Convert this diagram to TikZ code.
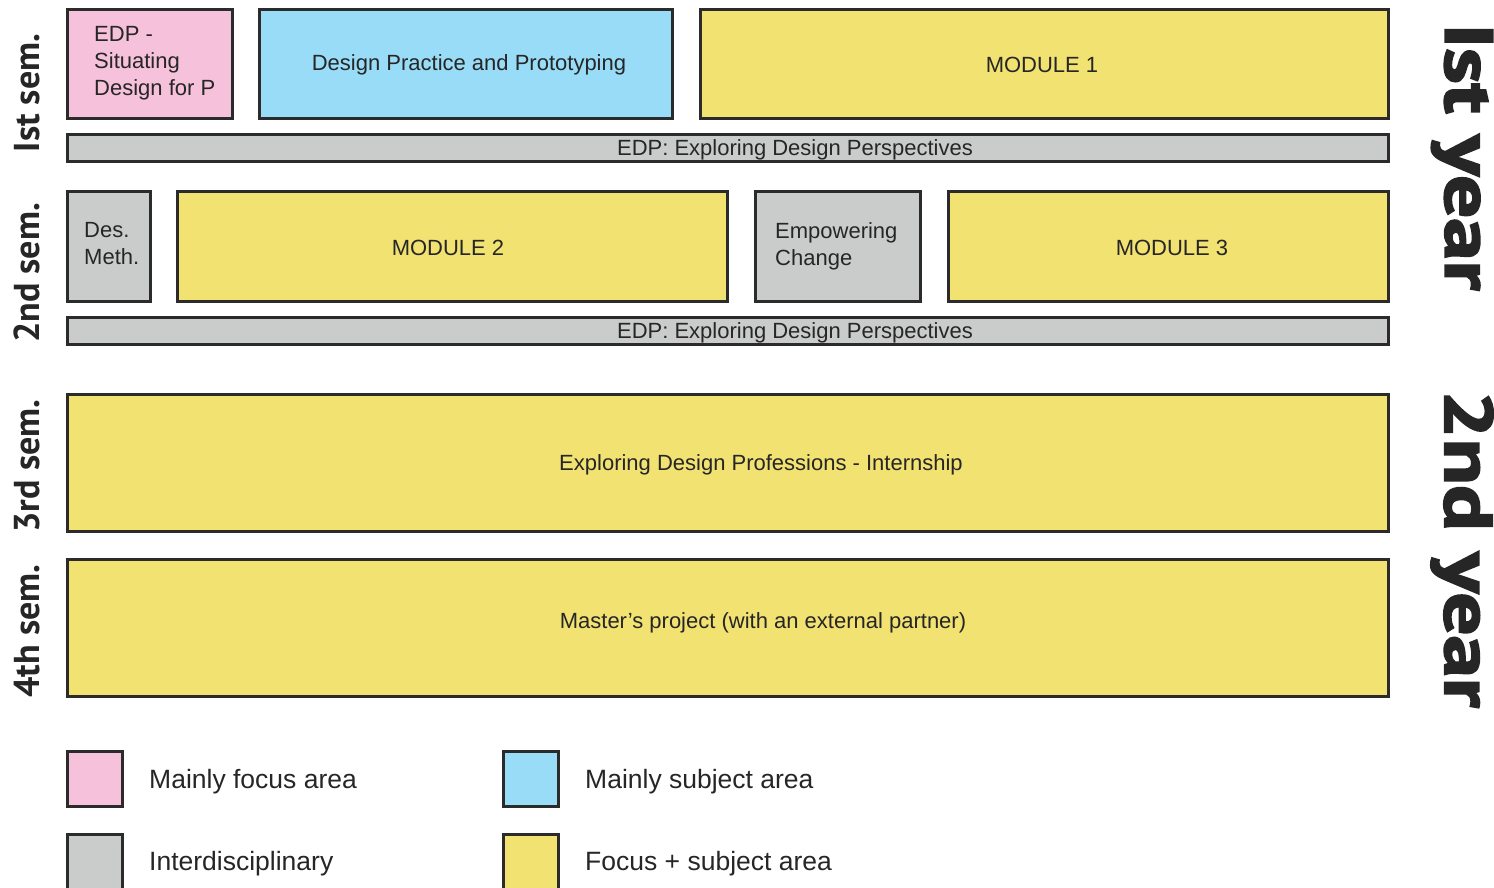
\documentclass[tikz,border=0pt]{standalone}
\usepackage{fontspec}
\setmainfont{Liberation Sans}
\newfontfamily\semfont{PT Sans}[BoldFont={PT Sans Bold}]
\newfontfamily\yearfont{PT Sans Bold}[FakeBold=2.5]
\definecolor{focuspink}{HTML}{F6C1DA}
\definecolor{subjblue}{HTML}{99DCF7}
\definecolor{bothyellow}{HTML}{F2E272}
\definecolor{intergray}{HTML}{CACCCB}
\definecolor{edge}{HTML}{2B2B2B}
\definecolor{ink}{HTML}{262626}
\tikzset{
  block/.style={draw=edge, line width=2.6pt, inner sep=0pt, anchor=north west},
  boxtext/.style={text=ink, inner sep=0pt, yshift=-1.5pt, font=\fontsize{22}{27}\selectfont},
  legtext/.style={text=ink, inner sep=0pt, anchor=west, yshift=-3pt, font=\fontsize{26.5}{30}\selectfont},
  semlabel/.style={text=ink, inner sep=0pt, rotate=90, font=\semfont\bfseries\fontsize{36}{36}\selectfont},
  yearlabel/.style={text=ink, inner sep=0pt, rotate=-90, xscale=1.25, transform shape, font=\yearfont\fontsize{68}{68}\selectfont},
}
\begin{document}
\begin{tikzpicture}[x=1pt, y=-1pt]
\useasboundingbox (0,0) rectangle (1494,888);

% ---- 1st semester ----
\node[block, fill=focuspink, minimum width=165, minimum height=109] (edpsit) at (66,8) {};
\node[boxtext, anchor=north west, align=left] (edpsitt) at (94,25) {EDP -\\Situating\\Design for P};
\node[block, fill=subjblue, minimum width=413, minimum height=109] (dpp) at (258,8) {};
\node[boxtext] (dppt) at (469,63) {Design Practice and Prototyping};
\node[block, fill=bothyellow, minimum width=688, minimum height=109] (mod1) at (699,8) {};
\node[boxtext] (mod1t) at (1042,63) {MODULE 1};
\node[block, fill=intergray, minimum width=1321, minimum height=27] (edp1) at (66,133) {};
\node[boxtext] (edp1t) at (795,148) {EDP: Exploring Design Perspectives};

% ---- 2nd semester ----
\node[block, fill=intergray, minimum width=83, minimum height=110] (desmeth) at (66,190) {};
\node[boxtext, anchor=north west, align=left] (desmetht) at (84,221) {Des.\\Meth.};
\node[block, fill=bothyellow, minimum width=550, minimum height=110] (mod2) at (176,190) {};
\node[boxtext] (mod2t) at (448,246) {MODULE 2};
\node[block, fill=intergray, minimum width=165, minimum height=110] (empch) at (754,190) {};
\node[boxtext, anchor=north west, align=left] (empcht) at (775,221) {Empowering\\Change};
\node[block, fill=bothyellow, minimum width=440, minimum height=110] (mod3) at (947,190) {};
\node[boxtext] (mod3t) at (1172,246) {MODULE 3};
\node[block, fill=intergray, minimum width=1321, minimum height=27] (edp2) at (66,316) {};
\node[boxtext] (edp2t) at (795,331) {EDP: Exploring Design Perspectives};

% ---- 3rd and 4th semesters ----
\node[block, fill=bothyellow, minimum width=1321, minimum height=137] (intern) at (66,393) {};
\node[boxtext] (internt) at (761,463) {Exploring Design Professions - Internship};
\node[block, fill=bothyellow, minimum width=1321, minimum height=137] (master) at (66,558) {};
\node[boxtext] (mastert) at (763,621) {Master’s project (with an external partner)};

% ---- semester labels ----
\node[semlabel] (s1) at (27,93) {Ist sem.};
\node[semlabel] (s2) at (27,273) {2nd sem.};
\node[semlabel] (s3) at (27,466) {3rd sem.};
\node[semlabel] (s4) at (27,631) {4th sem.};

% ---- year labels ----
\node[yearlabel] (y1) at (1462,157) {Ist year};
\node[yearlabel] (y2) at (1462,549) {2nd year};

% ---- legend ----
\node[block, fill=focuspink, minimum width=55, minimum height=55] (lgpink) at (66,750) {};
\node[legtext] (lgpinkt) at (149,779) {Mainly focus area};
\node[block, fill=intergray, minimum width=55, minimum height=55] (lggray) at (66,833) {};
\node[legtext] (lggrayt) at (149,861) {Interdisciplinary};
\node[block, fill=subjblue, minimum width=55, minimum height=55] (lgblue) at (502,750) {};
\node[legtext] (lgbluet) at (585,779) {Mainly subject area};
\node[block, fill=bothyellow, minimum width=55, minimum height=55] (lgyellow) at (502,833) {};
\node[legtext] (lgyellowt) at (585,861) {Focus + subject area};
\end{tikzpicture}
\end{document}
